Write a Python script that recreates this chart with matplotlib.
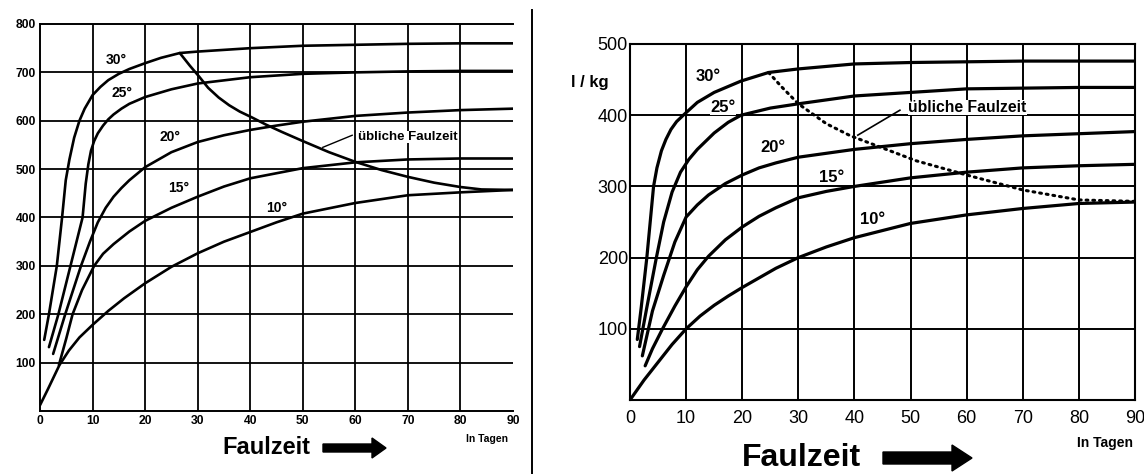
import matplotlib
matplotlib.use("Agg")
import matplotlib.pyplot as plt
from matplotlib.lines import Line2D
from matplotlib.patches import FancyArrow

plt.rcParams['font.family'] = ['Liberation Sans', 'DejaVu Sans']

W, H = 1144, 474

# ---------------- Gasausbeute (left chart, scale 0-800) ----------------
l30_days = [0.8, 1.7, 3.2, 4.2, 4.9, 5.6, 6.5, 7.5, 8.5, 10, 11.5, 13, 15, 17, 20, 23,
            26.6, 30, 40, 50, 60, 70, 80, 90]
l30_vals = [147, 200, 300, 400, 477, 520, 565, 600, 625, 653, 670, 684, 697, 707, 719, 730,
            740, 743, 750, 755, 757, 759, 760, 760]

l25_days = [1.7, 3.5, 5.8, 8.1, 8.7, 9.2, 9.7, 10.3, 11, 12, 13, 14, 15.5, 17, 20, 25,
            30, 40, 50, 60, 70, 80, 90]
l25_vals = [132, 200, 300, 400, 470, 510, 538, 558, 574, 590, 603, 613, 625, 635, 649, 665,
            677, 690, 697, 700, 702, 703, 703]

l20_days = [2.5, 4.8, 7.8, 9.5, 11, 12.5, 14, 15.5, 17, 20, 25, 30, 35, 40, 45, 50, 60, 70, 80, 90]
l20_vals = [118, 200, 300, 350, 390, 420, 443, 461, 477, 504, 535, 556, 570, 581, 590, 598,
            610, 617, 622, 625]

l15_days = [3.6, 5, 6.2, 8, 10.3, 12, 14, 17, 20, 25, 30, 35, 40, 50, 60, 70, 80, 90]
l15_vals = [95, 150, 200, 250, 300, 325, 345, 371, 393, 420, 443, 464, 481, 502, 514, 520, 522, 522]

l10_days = [0, 1.5, 3.7, 5.5, 7.5, 10, 13, 16, 20, 25, 30, 35, 40, 45, 50, 60, 70, 80, 90]
l10_vals = [12, 45, 95, 125, 152, 178, 207, 233, 264, 298, 326, 350, 370, 390, 408, 430, 446, 452, 457]

# übliche Faulzeit
lf_days = [26.6, 28.5, 30.3, 32, 34, 36, 38, 40.3, 43, 46, 50, 55, 60, 65, 70, 75, 80, 84, 90]
lf_vals = [740, 714, 691, 668, 648, 632, 619, 607, 592, 577, 558, 535, 515, 498, 484, 472, 463, 458, 457]

# ---------------- Gasausbeute l/kg (right chart, scale 0-500) ----------------
r30_days = [1.3, 2, 3, 4.2, 4.8, 5.6, 6.4, 7.3, 8.3, 9.5, 12, 15, 19.8, 24.7, 30, 40,
            50, 60, 70, 80, 90]
r30_vals = [85, 130, 200, 300, 326, 350, 366, 380, 391, 400, 418, 432, 448, 460, 465, 472,
            474, 475, 476, 476, 476]

r25_days = [1.7, 3, 4.7, 6, 7.5, 9, 10.5, 12, 15, 17.5, 19.8, 25, 30, 40, 50, 60, 70, 80, 90]
r25_vals = [75, 130, 200, 250, 292, 320, 338, 352, 375, 390, 400, 410, 416, 427, 432, 437, 438, 439, 439]

r20_days = [2.2, 4, 6, 8, 10, 12, 14, 17, 20, 23, 26, 30, 40, 50, 60, 70, 80, 90]
r20_vals = [62, 125, 175, 222, 257, 274, 288, 304, 316, 326, 333, 341, 352, 360, 366, 371, 374, 377]

r15_days = [2.7, 4, 5.8, 8, 10, 12, 14, 17, 20, 23, 26, 30, 35, 40, 50, 60, 70, 80, 90]
r15_vals = [48, 72, 100, 132, 159, 183, 202, 225, 243, 258, 270, 284, 293, 300, 312, 320, 326, 329, 331]

r10_days = [0, 2.5, 5, 7.5, 10, 12.5, 15, 17.5, 20, 26, 30, 35, 40, 50, 60, 70, 80, 90]
r10_vals = [0, 28, 53, 78, 100, 118, 133, 146, 158, 185, 200, 215, 228, 248, 260, 269, 276, 278]

rf_days = [24.7, 27, 30, 35, 39.3, 43, 51, 60, 70, 80, 90]
rf_vals = [460, 440, 416, 388, 371, 360, 336, 316, 295, 281, 279]

temp_labels = ['30°', '25°', '20°', '15°', '10°']
x_ticks = list(range(0, 91, 10))
left_y_ticks = list(range(100, 801, 100))
right_y_ticks = list(range(100, 501, 100))


def fig_xy(x, y):
    return x / W, 1 - y / H


def arrow(fig, x0, x1, y, body, head, head_len):
    fx0, fy = fig_xy(x0, y)
    fx1, _ = fig_xy(x1, y)
    fig.add_artist(FancyArrow(fx0, fy, fx1 - fx0, 0, width=body / H,
                              head_width=head / H, head_length=head_len / W,
                              length_includes_head=True, color='black',
                              transform=fig.transFigure))


fig = plt.figure(figsize=(W / 100, H / 100), dpi=100)

# ============================================================
# Left chart
# ============================================================
ax1 = fig.add_axes([40 / W, 1 - 411 / H, 473 / W, 387 / H])
ax1.set_xlim(0, 90)
ax1.set_ylim(0, 800)
for d in range(10, 90, 10):
    ax1.axvline(d, color='black', lw=1.3, zorder=1)
for v in range(100, 800, 100):
    ax1.axhline(v, color='black', lw=1.3, zorder=1)
ax1.spines['right'].set_visible(False)
for s in ['left', 'bottom', 'top']:
    ax1.spines[s].set_linewidth(1.4)

curve_kw = dict(color='black', lw=1.9, zorder=3, solid_capstyle='round', solid_joinstyle='round')
for dd, vv in [(l30_days, l30_vals), (l25_days, l25_vals), (l20_days, l20_vals),
               (l15_days, l15_vals), (l10_days, l10_vals), (lf_days, lf_vals)]:
    ax1.plot(dd, vv, **curve_kw)

ax1.set_xticks(x_ticks)
ax1.set_yticks(left_y_ticks)
ax1.tick_params(length=0, labelsize=8.7, pad=3)
for lab in ax1.get_xticklabels() + ax1.get_yticklabels():
    lab.set_fontweight('bold')

for txt, (d, v) in zip(temp_labels, [(14.6, 725), (15.6, 657), (24.7, 566), (26.3, 461), (45, 419)]):
    ax1.text(d, v, txt, ha='center', va='center', fontsize=10, fontweight='bold', zorder=4,
             bbox=dict(facecolor='white', edgecolor='none', pad=0.3))
ax1.plot([53.8, 59.4], [545, 570], color='black', lw=1.0, zorder=3)
ax1.text(60.5, 566, 'übliche Faulzeit', ha='left', va='center', fontsize=9.5,
         fontweight='bold', zorder=4, bbox=dict(facecolor='white', edgecolor='none', pad=0.2))

fig.text(*fig_xy(266, 448), 'Faulzeit', ha='center', va='center', fontsize=17, fontweight='bold')
arrow(fig, 323, 386, 448, 8, 20, 14)
fig.text(*fig_xy(487, 439), 'In Tagen', ha='center', va='center', fontsize=7.5, fontweight='bold')

# divider between the two charts
fig.add_artist(Line2D([532 / W, 532 / W], [1 - 10 / H, 0], color='black', lw=1.4,
                      transform=fig.transFigure))

# ============================================================
# Right chart
# ============================================================
ax2 = fig.add_axes([630 / W, 1 - 400 / H, 505 / W, 356 / H])
ax2.set_xlim(0, 90)
ax2.set_ylim(0, 500)
for d in range(10, 90, 10):
    ax2.axvline(d, color='black', lw=1.4, zorder=1)
for v in range(100, 500, 100):
    ax2.axhline(v, color='black', lw=1.4, zorder=1)
for s in ax2.spines.values():
    s.set_linewidth(1.5)

curve_kw2 = dict(color='black', lw=2.3, zorder=3, solid_capstyle='round', solid_joinstyle='round')
for dd, vv in [(r30_days, r30_vals), (r25_days, r25_vals), (r20_days, r20_vals),
               (r15_days, r15_vals), (r10_days, r10_vals)]:
    ax2.plot(dd, vv, **curve_kw2)
ax2.plot(rf_days, rf_vals, color='black', lw=2.2, linestyle=(0, (0.6, 1.6)),
         dash_capstyle='round', zorder=3)

ax2.set_xticks(x_ticks)
ax2.set_yticks(right_y_ticks)
ax2.tick_params(length=0, labelsize=13)
ax2.tick_params(axis='x', pad=7)
ax2.tick_params(axis='y', pad=1.5)

for txt, (d, v) in zip(temp_labels, [(13.9, 455), (16.6, 411), (25.5, 355), (36, 313), (43.3, 253)]):
    ax2.text(d, v, txt, ha='center', va='center', fontsize=12, fontweight='bold', zorder=4,
             bbox=dict(facecolor='white', edgecolor='none', pad=0.3))
ax2.plot([40.6, 48.1], [372, 407], color='black', lw=1.2, zorder=3)
ax2.text(49.6, 411, 'übliche Faulzeit', ha='left', va='center', fontsize=11.3,
         fontweight='bold', zorder=4, bbox=dict(facecolor='white', edgecolor='none', pad=0.2))

fig.text(*fig_xy(590, 82), 'l / kg', ha='center', va='center', fontsize=12, fontweight='bold')
fig.text(*fig_xy(801, 458), 'Faulzeit', ha='center', va='center', fontsize=23, fontweight='bold')
arrow(fig, 883, 972, 458, 12, 26, 20)
fig.text(*fig_xy(1105, 443), 'In Tagen', ha='center', va='center', fontsize=10, fontweight='bold')

fig.savefig('out.png', dpi=100, facecolor='white')
